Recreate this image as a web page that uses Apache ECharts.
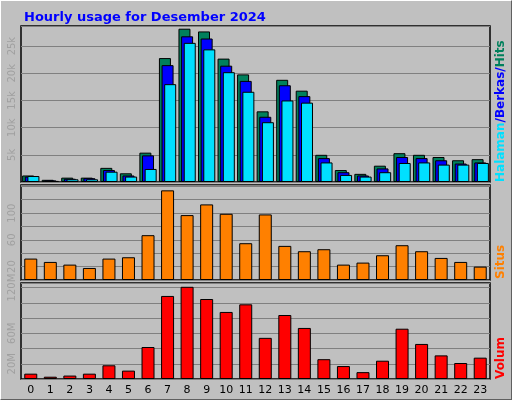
<!DOCTYPE html>
<html><head><meta charset="utf-8">
<script src="https://cdn.jsdelivr.net/npm/echarts@6/dist/echarts.min.js"></script>
<style>html,body{margin:0;padding:0;background:#c0c0c0}#c{width:510px;height:398px;border-top:1px solid #fff;border-left:1px solid #fff;border-right:1px solid #606060;border-bottom:1px solid #606060}</style>
</head><body><div id="c"></div>
<script>
const hours = ['0','1','2','3','4','5','6','7','8','9','10','11','12','13','14','15','16','17','18','19','20','21','22','23'];
const hits  = [1200,400,800,800,2600,1600,5400,22800,28200,27700,22700,19800,13000,18800,16800,5000,2200,1500,3000,5300,5000,4600,4000,4200];
const files = [1000,300,600,700,2200,1200,4900,21500,26800,26400,21400,18600,12000,17800,15800,4400,1800,1200,2500,4600,4400,4000,3400,3600];
const pages = [1100,200,500,500,1900,1000,2400,18000,25600,24400,20200,16600,11000,15000,14600,3600,1300,1000,1800,3500,3600,3200,3200,3500];
const visits = [32,27,23,18,32,34,67,134,97,113,99,55,98,51,43,46,23,26,37,52,43,33,27,20];
const volumeM = [7,3,4.5,7,18,11,42,109,121,105,88,98,54,84,67,26,17,9,24,66,46,31,21,28];

const chart = echarts.init(document.getElementById('c'));
const grids = [
  {left:20,right:21,top:25,height:156},
  {left:20,right:21,top:184,height:95},
  {left:20,right:21,top:282,height:96}
];
const gl = {show:true,lineStyle:{color:'#808080',width:1}};
const yl = {rotate:90,color:'#a0a0a0',fontFamily:'DejaVu Sans',fontSize:10,margin:4};
function xa(i,show){return {type:'category',gridIndex:i,data:hours,axisTick:{show:false},
  axisLine:{show:false},axisLabel:{show:show,color:'#000',fontFamily:'DejaVu Sans',fontSize:11,margin:6}};}
const bs = {borderColor:'#000',borderWidth:1};
chart.setOption({
  animation:false,
  title:{text:'Hourly usage for Desember 2024',left:18,top:5,textStyle:{color:'#0000ff',fontFamily:'DejaVu Sans',fontWeight:'bold',fontSize:13}},
  grid:grids.map(g=>Object.assign({show:true,borderColor:'#000',borderWidth:1.5,backgroundColor:'#c0c0c0'},g)),
  xAxis:[xa(0,false),xa(1,false),xa(2,true)],
  yAxis:[
    {type:'value',gridIndex:0,min:0,max:28700,interval:5000,splitLine:gl,axisLine:{show:false},axisTick:{show:false},
      axisLabel:Object.assign({formatter:v=>v===0?'':(v/1000)+'k'},yl)},
    {type:'value',gridIndex:1,min:0,max:142,interval:20,splitLine:gl,axisLine:{show:false},axisTick:{show:false},
      axisLabel:Object.assign({formatter:v=>(v===20||v===60||v===100)?String(v):''},yl)},
    {type:'value',gridIndex:2,min:0,max:126,interval:20,splitLine:gl,axisLine:{show:false},axisTick:{show:false},
      axisLabel:Object.assign({formatter:v=>(v===20||v===60||v===120)?v+'M':''},yl)}
  ],
  series:[
    {type:'bar',xAxisIndex:0,yAxisIndex:0,data:hits,barWidth:12,barGap:'-78%',itemStyle:Object.assign({color:'#00805c'},bs)},
    {type:'bar',xAxisIndex:0,yAxisIndex:0,data:files,barWidth:12,barGap:'-78%',itemStyle:Object.assign({color:'#0000ff'},bs)},
    {type:'bar',xAxisIndex:0,yAxisIndex:0,data:pages,barWidth:12,barGap:'-78%',itemStyle:Object.assign({color:'#00e0ff'},bs)},
    {type:'bar',xAxisIndex:1,yAxisIndex:1,data:visits,barWidth:13,itemStyle:Object.assign({color:'#ff8000'},bs)},
    {type:'bar',xAxisIndex:2,yAxisIndex:2,data:volumeM,barWidth:13,itemStyle:Object.assign({color:'#ff0000'},bs)}
  ],
  graphic:[
    {type:'text',x:494,y:181,rotation:Math.PI/2,style:{rich:{a:{fill:'#00e0ff'},b:{fill:'#0000ff'},c:{fill:'#00805c'}},
      text:'{a|Halaman}{b|/Berkas/}{c|Hits}',font:'bold 12px DejaVu Sans',fill:'#000'}},
    {type:'text',x:494,y:278,rotation:Math.PI/2,style:{text:'Situs',font:'bold 12px DejaVu Sans',fill:'#ff8000'}},
    {type:'text',x:494,y:378,rotation:Math.PI/2,style:{text:'Volum',font:'bold 12px DejaVu Sans',fill:'#ff0000'}}
  ]
});
</script></body></html>
